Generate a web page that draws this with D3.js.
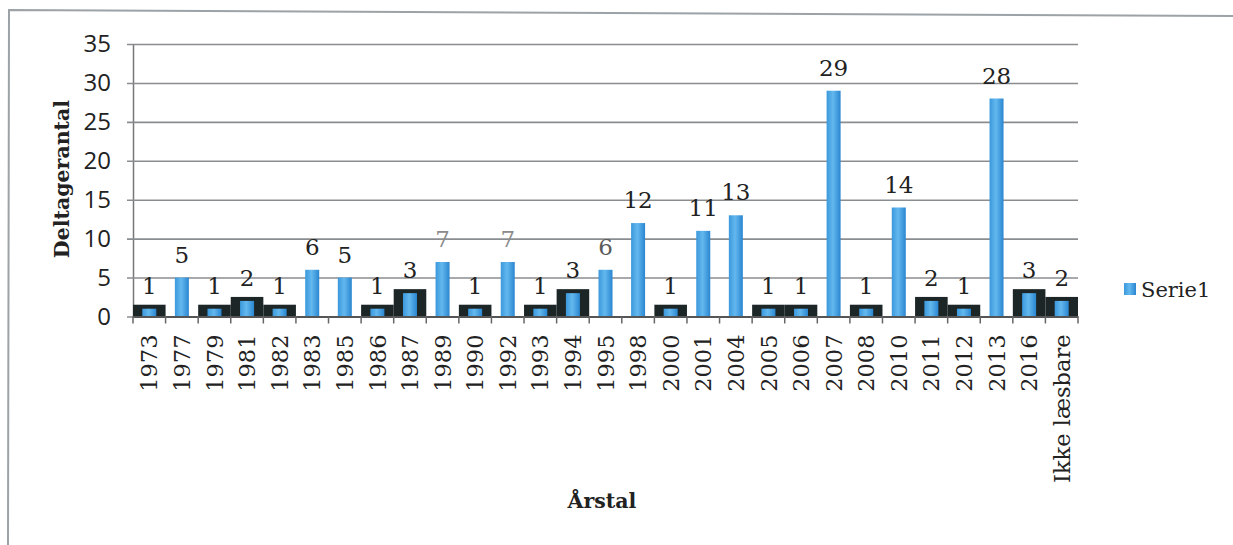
<!DOCTYPE html>
<html>
<head>
<meta charset="utf-8">
<script src="https://cdnjs.cloudflare.com/ajax/libs/d3/7.8.5/d3.min.js"></script>
<style>
    body { margin: 0; background: #fff; }
    svg { display: block; }
</style>
</head>
<body>
<script>
    // data
    var years = ['1973', '1977', '1979', '1981', '1982', '1983', '1985', '1986', '1987', '1989',
        '1990', '1992', '1993', '1994', '1995', '1998', '2000', '2001', '2004', '2005',
        '2006', '2007', '2008', '2010', '2011', '2012', '2013', '2016', 'Ikke læsbare'];
    var counts = [1, 5, 1, 2, 1, 6, 5, 1, 3, 7,
        1, 7, 1, 3, 6, 12, 1, 11, 13, 1,
        1, 29, 1, 14, 2, 1, 28, 3, 2];
    var yTicks = [0, 5, 10, 15, 20, 25, 30, 35];
    var seriesName = 'Serie1';

    var data = years.map(function (y, i) { return { year: y, value: counts[i] }; });

    var width = 1233, height = 545;
    var margin = { left: 133, right: 155, top: 44, bottom: 228 };

    var svg = d3.select('body').append('svg').attr('width', width).attr('height', height);

    var defs = svg.append('defs');
    var grad = defs.append('linearGradient').attr('id', 'barGrad')
        .attr('x1', '0%').attr('x2', '100%').attr('y1', '0%').attr('y2', '0%');
    grad.append('stop').attr('offset', '0%').attr('stop-color', '#3b98dc');
    grad.append('stop').attr('offset', '45%').attr('stop-color', '#63b8ee');
    grad.append('stop').attr('offset', '100%').attr('stop-color', '#2a86d0');

    // scanned page frame
    svg.append('path')
        .attr('d', 'M8,545 L9,10 L1233,16')
        .attr('fill', 'none')
        .attr('stroke', '#9ca2a6')
        .attr('stroke-width', 2);

    var x = d3.scaleBand()
        .domain(years)
        .range([margin.left, width - margin.right]);

    var y = d3.scaleLinear()
        .domain([0, 35])
        .range([height - margin.bottom - 0.5, margin.top]);

    // gridlines + y axis
    var yAxis = d3.axisLeft(y)
        .tickValues(yTicks)
        .tickSize(-(width - margin.right - margin.left))
        .tickSizeOuter(0)
        .tickPadding(22);

    var gy = svg.append('g')
        .attr('transform', 'translate(' + margin.left + ',0)')
        .call(yAxis);
    gy.select('.domain').attr('stroke', '#777').attr('stroke-width', 1.5);
    gy.selectAll('.tick line')
        .attr('x1', -6)
        .attr('stroke', '#8a8d90')
        .attr('stroke-width', 1.6);
    gy.selectAll('.tick text')
        .attr('fill', '#222')
        .style('font-family', '"Open Sans", sans-serif')
        .style('font-size', '24px');

    // dark boxes behind the small bars
    svg.append('g').selectAll('rect.box')
        .data(data.filter(function (d) { return d.value <= 3; }))
        .enter().append('rect')
        .attr('class', 'box')
        .attr('x', function (d) { return x(d.year); })
        .attr('width', x.bandwidth())
        .attr('y', function (d) { return y(d.value) - 4; })
        .attr('height', function (d) { return y(0) - y(d.value) + 4; })
        .attr('fill', '#1d2627');

    var barW = 14;
    svg.append('g').selectAll('rect.bar')
        .data(data)
        .enter().append('rect')
        .attr('class', 'bar')
        .attr('x', function (d) { return x(d.year) + (x.bandwidth() - barW) / 2; })
        .attr('width', barW)
        .attr('y', function (d) { return y(d.value); })
        .attr('height', function (d) { return y(0) - y(d.value); })
        .attr('fill', 'url(#barGrad)');

    // x axis
    var xAxis = d3.axisBottom(x).tickSize(0).tickSizeOuter(0);
    var gx = svg.append('g')
        .attr('transform', 'translate(0,' + y(0) + ')')
        .call(xAxis);
    gx.select('.domain').attr('stroke', '#555').attr('stroke-width', 2);
    gx.selectAll('.tick text')
        .attr('transform', 'rotate(-90)')
        .attr('x', -18)
        .attr('y', 0)
        .attr('dy', '0.36em')
        .attr('text-anchor', 'end')
        .attr('fill', '#222')
        .style('font-family', '"DejaVu Serif", serif')
        .style('font-size', '22.5px');

    // tick marks between categories
    var bounds = years.map(function (c) { return x(c); }).concat([x(years[years.length - 1]) + x.bandwidth()]);
    svg.append('g').selectAll('line')
        .data(bounds)
        .enter().append('line')
        .attr('x1', function (d) { return d; })
        .attr('x2', function (d) { return d; })
        .attr('y1', y(0))
        .attr('y2', y(0) + 7)
        .attr('stroke', '#666')
        .attr('stroke-width', 1.5);

    // data labels
    var grey = { '1989': '#8c8c8c', '1992': '#8c8c8c', '1995': '#5a5a5a' };
    svg.append('g').selectAll('text')
        .data(data)
        .enter().append('text')
        .attr('x', function (d) { return x(d.year) + x.bandwidth() / 2; })
        .attr('y', function (d) { return y(d.value) - 15; })
        .attr('text-anchor', 'middle')
        .attr('fill', function (d) { return grey[d.year] || '#222'; })
        .style('font-family', '"DejaVu Serif", serif')
        .style('font-size', '23px')
        .text(function (d) { return d.value; });

    // axis titles
    svg.append('text')
        .attr('transform', 'translate(69,179) rotate(-90)')
        .attr('text-anchor', 'middle')
        .attr('fill', '#222')
        .style('font-family', '"DejaVu Serif", serif')
        .style('font-weight', 'bold')
        .style('font-size', '20.5px')
        .text('Deltagerantal');

    svg.append('text')
        .attr('x', 602)
        .attr('y', 508)
        .attr('text-anchor', 'middle')
        .attr('fill', '#222')
        .style('font-family', '"DejaVu Serif", serif')
        .style('font-weight', 'bold')
        .style('font-size', '20.5px')
        .text('Årstal');

    // legend
    var legend = svg.append('g').attr('transform', 'translate(1124,283)');
    legend.append('rect').attr('width', 12).attr('height', 12).attr('fill', 'url(#barGrad)');
    legend.append('text')
        .attr('x', 17)
        .attr('y', 14)
        .attr('fill', '#222')
        .style('font-family', '"DejaVu Serif", serif')
        .style('font-size', '21px')
        .text(seriesName);
</script>
</body>
</html>
